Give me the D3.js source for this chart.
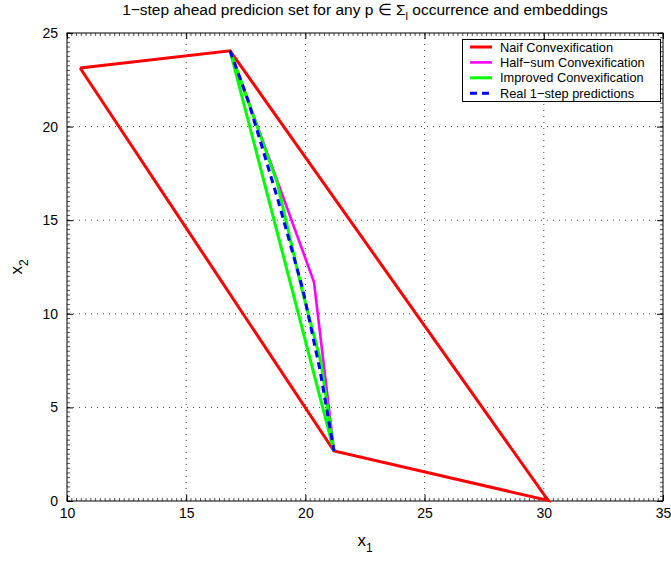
<!DOCTYPE html>
<html><head><meta charset="utf-8">
<script src="https://cdn.jsdelivr.net/npm/d3@7"></script>
<style>body{margin:0;background:#fff;} svg{display:block;font-family:"Liberation Sans",Arial,sans-serif;}</style>
</head><body>
<svg id="chart" width="671" height="562"></svg>
<script>
const xTicks = [10, 15, 20, 25, 30, 35];
const yTicks = [0, 5, 10, 15, 20, 25];
const seriesNames = ["Naif Convexification", "Half\u2212sum Convexification", "Improved Convexification", "Real 1\u2212step predictions"];
const naifX = [10.55, 16.84, 30.18, 21.2, 10.55];
const naifY = [23.13, 24.05, 0.03, 2.67, 23.13];
const halfSumX = [16.84, 20.36, 21.2];
const halfSumY = [24.05, 11.7, 2.67];
const improvedX = [16.84, 18.81, 19.86, 20.65, 21.2, 16.84];
const improvedY = [24.05, 17.04, 11.27, 7.43, 2.67, 24.05];
const realX = [16.84, 17.59, 18.85, 19.9, 20.61, 21.2];
const realY = [24.05, 21.42, 16.08, 11.27, 7.0, 2.67];

const W = 671, H = 562;
const m = {left: 67, right: 8, top: 33, bottom: 61};
const svg = d3.select("#chart");
const x = d3.scaleLinear().domain([10, 35]).range([m.left, W - m.right]);
const y = d3.scaleLinear().domain([0, 25]).range([H - m.bottom, m.top]);
const x0 = m.left, x1 = W - m.right, y0 = H - m.bottom, y1 = m.top;

// grid
const g = svg.append("g");
xTicks.slice(1, -1).forEach(t => g.append("line").attr("x1", x(t)).attr("x2", x(t)).attr("y1", y0).attr("y2", y1)
  .attr("stroke", "#444").attr("stroke-width", 1).attr("stroke-dasharray", "1,5"));
yTicks.slice(1, -1).forEach(t => g.append("line").attr("y1", y(t)).attr("y2", y(t)).attr("x1", x0).attr("x2", x1)
  .attr("stroke", "#444").attr("stroke-width", 1).attr("stroke-dasharray", "1,5"));

// minor ticks
const xMinor = d3.range(10, 35.001, 0.2);
const yMinor = d3.range(0, 25.001, 0.25);
xMinor.forEach(t => {
  g.append("line").attr("x1", x(t)).attr("x2", x(t)).attr("y1", y0).attr("y2", y0 - 3).attr("stroke", "#555");
  g.append("line").attr("x1", x(t)).attr("x2", x(t)).attr("y1", y1).attr("y2", y1 + 3).attr("stroke", "#555");
});
yMinor.forEach(t => {
  g.append("line").attr("y1", y(t)).attr("y2", y(t)).attr("x1", x0).attr("x2", x0 + 3).attr("stroke", "#555");
  g.append("line").attr("y1", y(t)).attr("y2", y(t)).attr("x1", x1).attr("x2", x1 - 3).attr("stroke", "#555");
});

// axes
const xAxis = d3.axisBottom(x).tickValues(xTicks).tickSize(-6).tickPadding(7).tickFormat(d3.format("d"));
const yAxis = d3.axisLeft(y).tickValues(yTicks).tickSize(-6).tickPadding(9).tickFormat(d3.format("d"));
const gx = svg.append("g").attr("transform", `translate(0,${y0})`).call(xAxis);
const gy = svg.append("g").attr("transform", `translate(${x0},0)`).call(yAxis);
[gx, gy].forEach(a => {
  a.select(".domain").remove();
  a.selectAll("text").attr("font-size", 14).attr("fill", "#000").attr("font-family", "Liberation Sans, Arial, sans-serif");
  a.selectAll("line").attr("stroke", "#000");
});
gx.selectAll("text").attr("dy", "0.71em");
svg.append("g").attr("transform", `translate(0,${y1})`).call(d3.axisTop(x).tickValues(xTicks).tickSize(-6).tickFormat(""))
  .call(a => { a.select(".domain").remove(); a.selectAll("line").attr("stroke", "#000"); });
svg.append("g").attr("transform", `translate(${x1},0)`).call(d3.axisRight(y).tickValues(yTicks).tickSize(-6).tickFormat(""))
  .call(a => { a.select(".domain").remove(); a.selectAll("line").attr("stroke", "#000"); });

svg.append("rect").attr("x", x0).attr("y", y1).attr("width", x1 - x0).attr("height", y0 - y1)
  .attr("fill", "none").attr("stroke", "#000").attr("stroke-width", 1);

// series
const line = d3.line().x(d => x(d[0])).y(d => y(d[1]));
const zip = (a, b) => a.map((v, i) => [v, b[i]]);
const series = [
  {pts: zip(naifX, naifY), color: "#ff0000", w: 3, dash: null},
  {pts: zip(halfSumX, halfSumY), color: "#ff00ff", w: 2.6, dash: null},
  {pts: zip(improvedX, improvedY), color: "#00ff00", w: 3, dash: null},
  {pts: zip(realX, realY), color: "#0000ff", w: 3, dash: "7,5"}
];
series.forEach(s => svg.append("path").attr("d", line(s.pts)).attr("fill", "none")
  .attr("stroke", s.color).attr("stroke-width", s.w).attr("stroke-linejoin", "miter")
  .attr("stroke-dasharray", s.dash));

// legend
const lg = svg.append("g");
lg.append("rect").attr("x", 462.5).attr("y", 39.5).attr("width", 198).attr("height", 62)
  .attr("fill", "#fff").attr("stroke", "#000").attr("stroke-width", 1);
series.forEach((s, i) => {
  const yy = 47 + i * 15.4;
  lg.append("line").attr("x1", 470).attr("x2", 492).attr("y1", yy).attr("y2", yy)
    .attr("stroke", s.color).attr("stroke-width", s.w).attr("stroke-dasharray", s.dash);
  lg.append("text").attr("x", 500).attr("y", yy + 4.5).attr("font-size", 12.8).text(seriesNames[i]);
});

// title
const title = svg.append("text").attr("x", (x0 + x1) / 2).attr("y", 15).attr("text-anchor", "middle").attr("font-size", 15.5);
title.append("tspan").text("1\u2212step ahead predicion set for any p \u2208 \u03A3");
title.append("tspan").attr("dy", 5).attr("font-size", 11).text("l");
title.append("tspan").attr("dy", -5).text(" occurrence and embeddings");

// axis labels
const xl = svg.append("text").attr("x", (x0 + x1) / 2).attr("y", 546).attr("text-anchor", "middle").attr("font-size", 17);
xl.append("tspan").text("x");
xl.append("tspan").attr("dy", 6).attr("font-size", 12).text("1");
const yl = svg.append("text").attr("transform", `translate(22,${(y0 + y1) / 2}) rotate(-90)`).attr("text-anchor", "middle").attr("font-size", 17);
yl.append("tspan").text("x");
yl.append("tspan").attr("dy", 6).attr("font-size", 12).text("2");
</script>
</body></html>
